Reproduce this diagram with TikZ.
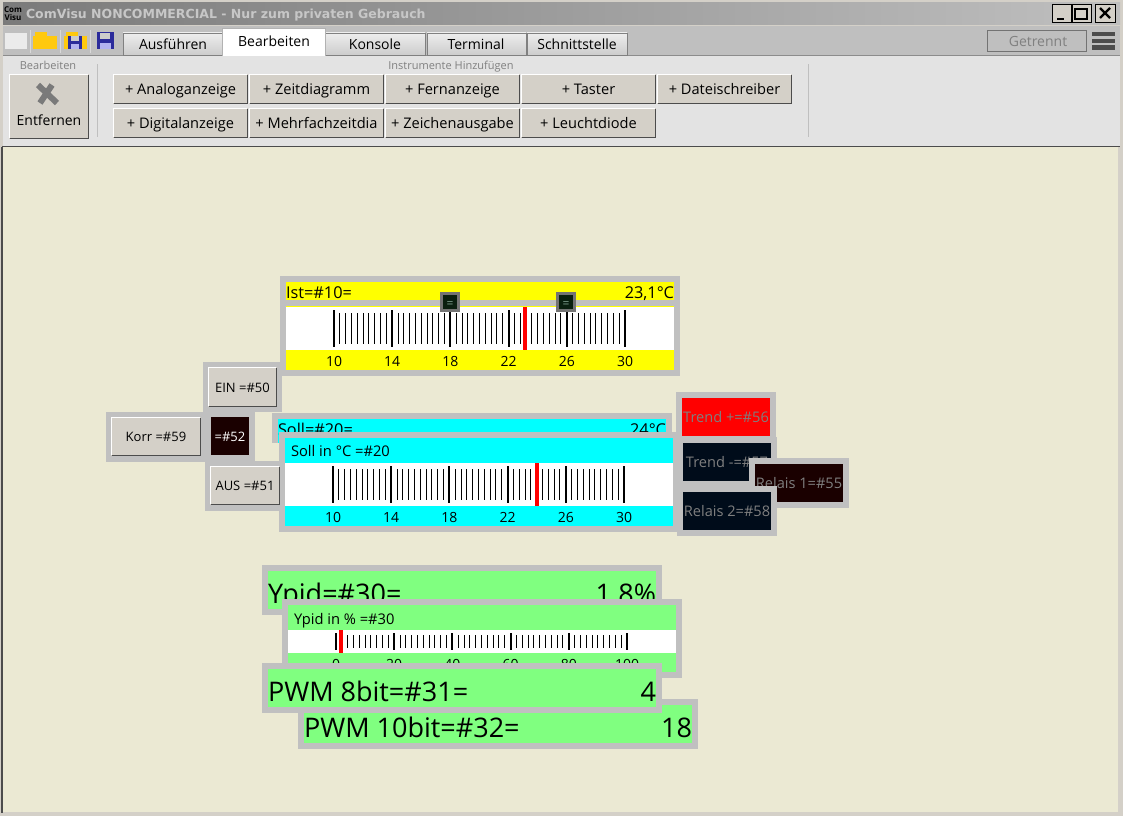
\documentclass[tikz,border=0pt]{standalone}
\usepackage{fontspec}
\setmainfont{Open Sans}
\newfontfamily\titelfont{DejaVu Sans}
\definecolor{rahmengrau}{HTML}{C0C0C0}
\definecolor{flaeche}{HTML}{EBE9D3}
\definecolor{knopfgrau}{HTML}{D4D0C8}
\definecolor{hellgruen}{HTML}{80FF80}
\definecolor{dunkelrot}{HTML}{1A0000}
\definecolor{dunkelblau}{HTML}{000C1A}
\definecolor{lampentext}{HTML}{7F7F7F}
\definecolor{diskette}{HTML}{2B2B9B}
\definecolor{ordner}{HTML}{FFC90E}
\definecolor{tuerkis}{HTML}{00FFFF}
\definecolor{gelb}{HTML}{FFFF00}
\definecolor{rot}{HTML}{FF0000}
\definecolor{markenfeld}{HTML}{0A1F0F}
\definecolor{markentext}{HTML}{7F9F8F}
\newcommand{\groesse}[1]{\fontsize{#1}{#1}\selectfont}
\tikzset{
	txt/.style={inner sep=0pt,outer sep=0pt,text=black,text height=11pt,text depth=3pt,yshift=-1pt,font=\groesse{14}},
	klein/.style={txt,text=gray,font=\groesse{11}},
	gross/.style={txt,text height=20pt,text depth=6pt,yshift=-2pt,font=\groesse{27}},
	mittel/.style={txt,text height=12pt,text depth=4pt,yshift=1pt,font=\groesse{16.3}},
	reiter/.style={draw=gray,top color=white!93!black,bottom color=black!20},
	major/.style={line width=2pt,black},
	minor/.style={line width=1pt,black}
}
% Knopf: name, x1, y1, x2, y2, text
\newcommand{\knopf}[6]{
	\fill[knopfgrau] (#2,#3) rectangle (#4,#5);
	\draw[white,line width=1pt] (#2+0.5,#5-1)--(#2+0.5,#3+0.5)--(#4-1,#3+0.5);
	\draw[black!70,line width=1.3pt] (#2+0.5,#5-0.6)--(#4-0.6,#5-0.6)--(#4-0.6,#3+0.5);
	\node[txt] (#1) at ({(#2+#4)/2},{(#3+#5)/2}) {#6};
}
% Lampe: name, x, y, farbe, textfarbe, text
\newcommand{\lampe}[6]{
	\fill[rahmengrau] (#2,#3) rectangle (#2+100,#3+50);
	\fill[#4] (#2+6,#3+6) rectangle (#2+94,#3+44);
	\node[txt,text=#5,font=\groesse{14.6}] (#1) at (#2+50,#3+25) {#6};
}
% Digitalanzeige: name, x, y, text, wert
\newcommand{\zahlanzeige}[5]{
	\fill[rahmengrau] (#2,#3) rectangle (#2+400,#3+50);
	\fill[hellgruen] (#2+6,#3+6) rectangle (#2+394,#3+44);
	\node[gross,anchor=west] (#1a) at (#2+6,#3+28) {#4};
	\node[gross,anchor=east] (#1b) at (#2+394,#3+28) {#5};
}
% Skala: name, x0, y1, y2, kurz oben, kurz unten, y text, werte
\newcommand{\skala}[8]{
	\foreach \i in {0,...,50}{
		\pgfmathtruncatemacro{\rest}{mod(\i,10)}
		\ifnum\rest=0
			\draw[major] (#2+\i*5.82,#3)--(#2+\i*5.82,#4);
		\else
			\draw[minor] (#2+\i*5.82,#5)--(#2+\i*5.82,#6);
		\fi
	}
	\foreach \w [count=\n from 0] in {#8}{
		\node[txt] (#1\n) at (#2+\n*58.2,#7) {\w};
	}
}
% kleine Marke auf der Skala
\newcommand{\marke}[2]{
	\draw[fill=markenfeld,draw=black!55,line width=3pt] (#2-8.5,293.5) rectangle (#2+8.5,310.5);
	\node[txt,text=markentext,font=\groesse{12}] (#1) at (#2,302) {=};
}
\begin{document}
\begin{tikzpicture}[x=1pt,y=-1pt]
	\useasboundingbox (0,0) rectangle (1123,816);
	%Fenster
	\fill[knopfgrau] (0,0) rectangle (1123,816);
	\fill[left color=black!52,right color=black!25] (3,3) rectangle (1120,25);
	\node[inner sep=0pt,font=\groesse{8}\bfseries,align=center] (logo) at (13,14) {Com\\Visu};
	\node[txt,anchor=west,text=white!78!black,font=\titelfont\groesse{12.5}\bfseries] (titel) at (26,14) {ComVisu NONCOMMERCIAL - Nur zum privaten Gebrauch};
	\draw[fill=knopfgrau,draw=black] (1052,4) rectangle (1071,22);
	\draw[fill=knopfgrau,draw=black] (1072,4) rectangle (1091,22);
	\draw[fill=knopfgrau,draw=black] (1095,4) rectangle (1115,22);
	\draw[line width=2pt] (1057,19)--(1064,19);
	\draw[line width=1.5pt] (1075,9) rectangle (1087,19);
	\draw[line width=2.4pt] (1100,8)--(1110,18);
	\draw[line width=2.4pt] (1110,8)--(1100,18);
	%Werkzeugleiste
	\fill[black!25] (3,26) rectangle (1120,55);
	\draw[black!45] (3,55.5)--(1120,55.5);
	\fill[black!11] (3,56) rectangle (1120,146);
	\draw[black!70,line width=1.2pt] (2,146.5)--(1120,146.5);
	\draw[black!70,line width=1.2pt] (2,146.5)--(2,813);
	%Symbole
	\fill[white!92!black] (5,33) rectangle (27,49);
	\fill[ordner] (33,36) rectangle (57,49);
	\fill[ordner] (35,32) rectangle (47,37);
	\fill[ordner] (64,36) rectangle (87,49);
	\fill[ordner] (66,32) rectangle (78,37);
	\fill[diskette] (68,36) rectangle (82,49);
	\fill[black!20!white] (71,36) rectangle (79,41);
	\fill[black!20!blue!30!white] (71,44) rectangle (79,49);
	\fill[diskette] (97,32) rectangle (114,49);
	\fill[black!20!white] (100,33) rectangle (110,39);
	\fill[black!20!blue!30!white] (100,43) rectangle (111,49);
	\draw[black!15] (30.5,30)--(30.5,53);
	\draw[black!15] (60.5,30)--(60.5,53);
	\draw[black!15] (90.5,30)--(90.5,53);
	%Reiter
	\draw[reiter] (123,33) rectangle (222,55);
	\draw[reiter] (325,33) rectangle (425,55);
	\draw[reiter] (427,33) rectangle (526,55);
	\draw[reiter] (527,33) rectangle (627,55);
	\fill[white] (222.5,28) rectangle (325,56);
	\draw[black!30] (222.5,56)--(222.5,28)--(325,28)--(325,56);
	\node[txt] (ausfuehren) at (173,44) {Ausführen};
	\node[txt] (bearbeiten) at (274,42) {Bearbeiten};
	\node[txt] (konsole) at (375,44) {Konsole};
	\node[txt] (terminal) at (476,44) {Terminal};
	\node[txt] (schnittstelle) at (577,44) {Schnittstelle};
	\draw[black!55,line width=1pt] (987.5,30.5) rectangle (1086,52);
	\node[txt,text=black!50] (getrennt) at (1038,42) {Getrennt};
	\fill[black!70] (1092,32) rectangle (1115,36);
	\fill[black!70] (1092,39) rectangle (1115,43);
	\fill[black!70] (1092,45) rectangle (1115,50);
	%Knoepfe
	\node[klein] (bearbeitenklein) at (48,65) {Bearbeiten};
	\node[klein] (instrumente) at (451,65) {Instrumente Hinzufügen};
	\draw[black!25] (97.5,64)--(97.5,137);
	\draw[black!25] (808.5,64)--(808.5,137);
	\knopf{entfernenfeld}{9}{74}{89}{139}{}
	\node[txt] (entfernen) at (49,120) {Entfernen};
	\draw[black!52,line width=6pt] (38,85)--(57,103);
	\draw[black!52,line width=6pt] (52,85)--(40,103);
	\knopf{analog}{113}{74}{248}{104}{\groesse{14.6}+ Analoganzeige}
	\knopf{zeit}{249}{74}{384}{104}{\groesse{14.6}+ Zeitdiagramm}
	\knopf{fern}{385}{74}{520}{104}{\groesse{14.6}+ Fernanzeige}
	\knopf{taster}{521}{74}{656}{104}{\groesse{14.6}+ Taster}
	\knopf{datei}{657}{74}{792}{104}{\groesse{14.6}+ Dateischreiber}
	\knopf{digital}{113}{108}{248}{138}{\groesse{14.6}+ Digitalanzeige}
	\knopf{mehrfach}{249}{108}{384}{138}{\groesse{14.6}+ Mehrfachzeitdia}
	\knopf{zeichen}{385}{108}{520}{138}{\groesse{14.6}+ Zeichenausgabe}
	\knopf{leucht}{521}{108}{656}{138}{\groesse{14.6}+ Leuchtdiode}
	%Arbeitsflaeche
	\fill[flaeche] (2.5,147) rectangle (1118,812);
	%Ist
	\fill[rahmengrau] (280,276) rectangle (680,376);
	\fill[gelb] (286,282) rectangle (674,300);
	\fill[gelb] (286,306) rectangle (674,370);
	\fill[white] (286,307) rectangle (674,350);
	\node[mittel,anchor=west] (ist) at (286,294) {Ist=\#10=};
	\node[mittel,anchor=east] (istwert) at (674,294) {23,1°C};
	\skala{istskala}{334}{310}{347}{313}{344}{361}{10,14,18,22,26,30}
	\fill[rot] (523,307) rectangle (527,350);
	\marke{markea}{450}
	\marke{markeb}{566}
	%Tasten links
	\fill[rahmengrau] (106,412) rectangle (206,462);
	\knopf{korr}{111}{417}{201}{456}{\groesse{13}Korr =\#59}
	\fill[rahmengrau] (203,362) rectangle (282,412);
	\knopf{ein}{208}{367}{277}{407}{\groesse{13}EIN =\#50}
	\fill[rahmengrau] (205,461) rectangle (285,511);
	\fill[rahmengrau] (203,412) rectangle (255,462);
	\fill[dunkelrot] (211,417) rectangle (249,455);
	\node[txt,text=white,font=\groesse{13}] (taste) at (230,436) {=\#52};
	%Trend
	\lampe{trendplus}{676}{392}{rot}{lampentext}{Trend +=\#56}
	%Soll
	\fill[rahmengrau] (272,413) rectangle (672,443);
	\fill[tuerkis] (278,419) rectangle (666,443);
	\node[mittel,anchor=west] (soll) at (278,431) {Soll=\#20=};
	\node[mittel,anchor=east] (sollwert) at (666,431) {24°C};
	\fill[rahmengrau] (279,432) rectangle (679,532);
	\fill[tuerkis] (285,438) rectangle (673,526);
	\fill[white] (285,463) rectangle (673,506);
	\node[txt,anchor=west,font=\groesse{14.7}] (sollgrad) at (291,451) {Soll in °C =\#20};
	\skala{sollskala}{333}{466}{503}{469}{500}{517}{10,14,18,22,26,30}
	\fill[rot] (535,463) rectangle (539,506);
	\knopf{aus}{210}{466}{280}{505}{\groesse{13}AUS =\#51}
	%Lampen rechts
	\lampe{trendminus}{677}{437}{dunkelblau}{lampentext}{Trend -=\#57}
	\lampe{relaiseins}{749}{458}{dunkelrot}{lampentext}{Relais 1=\#55}
	\lampe{relaiszwei}{677}{486}{dunkelblau}{lampentext}{Relais 2=\#58}
	%Ypid
	\zahlanzeige{ypid}{262}{565}{Ypid=\#30=}{1.8\%}
	\fill[rahmengrau] (282,599) rectangle (682,678);
	\fill[hellgruen] (288,605) rectangle (676,672);
	\fill[white] (288,630) rectangle (676,653);
	\node[txt,anchor=west,font=\groesse{14.7}] (ypidprozent) at (294,619) {Ypid in \% =\#30};
	\skala{ypidskala}{336}{633}{650}{635}{648}{664}{0,20,40,60,80,100}
	\fill[rot] (339,630) rectangle (343,653);
	%PWM
	\zahlanzeige{pwmzehn}{298}{699}{PWM 10bit=\#32=}{18}
	\zahlanzeige{pwmacht}{262}{663}{PWM 8bit=\#31=}{4}
\end{tikzpicture}
\end{document}
